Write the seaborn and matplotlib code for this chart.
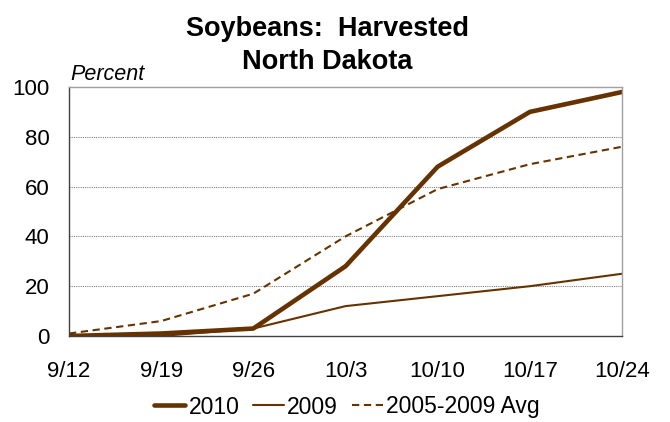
import matplotlib
matplotlib.use("Agg")
import matplotlib.pyplot as plt
import seaborn as sns
import pandas as pd

weeks = ["9/12", "9/19", "9/26", "10/3", "10/10", "10/17", "10/24"]
y2010 = [0, 1, 3, 28, 68, 90, 98]
y2009 = [0, 0, 3, 12, 16, 20, 25]
yavg = [1, 6, 17, 40, 59, 69, 76]
series_names = ["2010", "2009", "2005-2009 Avg"]

sns.set_theme(style="white")
plt.rcParams["font.family"] = ["Liberation Sans", "DejaVu Sans"]
plt.rcParams["text.color"] = "black"

rows = []
for name, vals in zip(series_names, [y2010, y2009, yavg]):
    for i, (w, v) in enumerate(zip(weeks, vals)):
        rows.append({"week": w, "idx": i, "value": v, "series": name})
df = pd.DataFrame(rows)

W, H = 670, 422
fig = plt.figure(figsize=(W / 100, H / 100), dpi=100)
ax = fig.add_axes([69 / W, 1 - 336 / H, (622 - 69) / W, (336 - 87) / H])

color = "#663300"
styles = {"2010": dict(lw=3.3, ls="-"), "2009": dict(lw=1.5, ls="-"),
          "2005-2009 Avg": dict(lw=1.5, ls=(0, (3.5, 2.2)))}
for name in series_names:
    sub = df[df["series"] == name]
    sns.lineplot(data=sub, x="idx", y="value", ax=ax, color=color,
                 linewidth=styles[name]["lw"], linestyle=styles[name]["ls"],
                 label=name, legend=False)

ax.set_xlim(0, len(weeks) - 1)
ax.set_ylim(0, 100)
ax.set_xticks(range(len(weeks)))
ax.set_xticklabels(weeks)
ax.set_yticks([0, 20, 40, 60, 80, 100])
ax.set_xlabel("")
ax.set_ylabel("")
ax.tick_params(axis="both", labelsize=16, direction="out", length=5, width=1,
               colors="#404040", labelcolor="black")
ax.tick_params(axis="x", pad=13)
ax.tick_params(axis="y", pad=9)
for y in [20, 40, 60, 80]:
    ax.axhline(y, color="#808080", lw=0.8, ls=(0, (1, 1)), zorder=0)
ax.spines["left"].set_color("#404040")
ax.spines["bottom"].set_color("#404040")
ax.spines["top"].set_color("#a0a0a0")
ax.spines["right"].set_color("#a0a0a0")
for s in ax.spines.values():
    s.set_linewidth(1.0)

fig.text(327 / W, 1 - 36 / H, "Soybeans:  Harvested", ha="center", va="baseline",
         fontsize=19.5, fontweight="bold", color="black")
fig.text(327 / W, 1 - 69 / H, "North Dakota", ha="center", va="baseline",
         fontsize=19.5, fontweight="bold", color="black")
fig.text(70 / W, 1 - 80 / H, "Percent", fontsize=15.5, fontstyle="italic",
         ha="left", va="baseline", color="black")

handles, labels = ax.get_legend_handles_labels()
leg = fig.legend(handles, labels, loc="center", bbox_to_anchor=(347 / W, 1 - 407 / H),
                 ncol=3, frameon=False, fontsize=16.5, handlelength=1.35,
                 handletextpad=0.15, columnspacing=0.6, borderpad=0, borderaxespad=0)
for t in leg.get_texts():
    t.set_color("black")

fig.savefig("out.png", dpi=100)
